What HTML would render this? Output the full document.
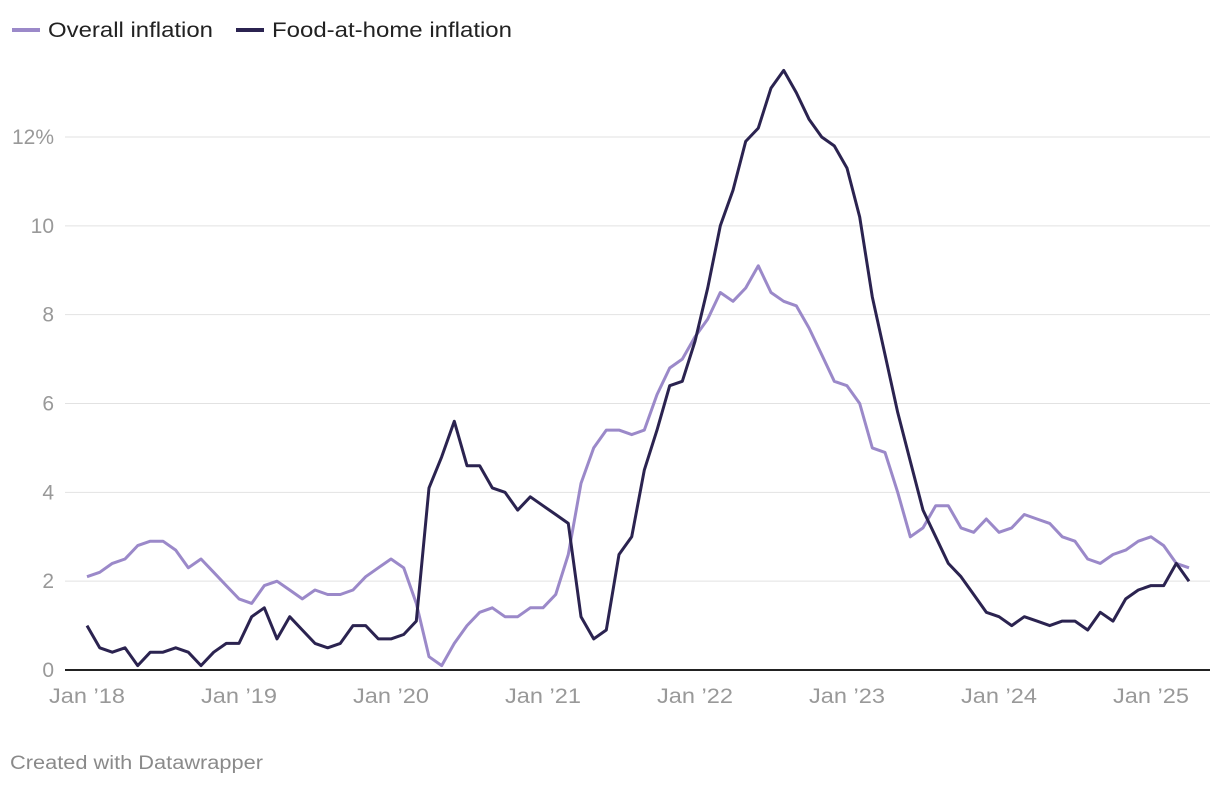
<!DOCTYPE html>
<html><head><meta charset="utf-8"><style>
body{margin:0;background:#fff;font-family:"Liberation Sans",Roboto,sans-serif;}
svg text{font-family:"Liberation Sans",sans-serif;}
</style></head><body>
<svg id="chart" width="1220" height="786">
<g>
<g><line x1="12" y1="30" x2="40" y2="30" stroke="#9b89c9" stroke-width="4"/><text x="48" y="37" font-size="21" fill="#222" textLength="165" lengthAdjust="spacingAndGlyphs">Overall inflation</text></g>
<g><line x1="236" y1="30" x2="264" y2="30" stroke="#2b2350" stroke-width="4"/><text x="272" y="37" font-size="21" fill="#222" textLength="240" lengthAdjust="spacingAndGlyphs">Food-at-home inflation</text></g>
</g>
<g id="grid"></g>
<g id="ylab"></g>
<g id="xlab"></g>
<g id="lines"></g>
<text x="10" y="769" font-size="19" fill="#8a8a8a" textLength="253" lengthAdjust="spacingAndGlyphs">Created with Datawrapper</text>
</svg>
<script>
const overall=[2.1,2.2,2.4,2.5,2.8,2.9,2.9,2.7,2.3,2.5,2.2,1.9,
1.6,1.5,1.9,2.0,1.8,1.6,1.8,1.7,1.7,1.8,2.1,2.3,
2.5,2.3,1.5,0.3,0.1,0.6,1.0,1.3,1.4,1.2,1.2,1.4,
1.4,1.7,2.6,4.2,5.0,5.4,5.4,5.3,5.4,6.2,6.8,7.0,
7.5,7.9,8.5,8.3,8.6,9.1,8.5,8.3,8.2,7.7,7.1,6.5,
6.4,6.0,5.0,4.9,4.0,3.0,3.2,3.7,3.7,3.2,3.1,3.4,
3.1,3.2,3.5,3.4,3.3,3.0,2.9,2.5,2.4,2.6,2.7,2.9,
3.0,2.8,2.4,2.3];
const food=[1.0,0.5,0.4,0.5,0.1,0.4,0.4,0.5,0.4,0.1,0.4,0.6,
0.6,1.2,1.4,0.7,1.2,0.9,0.6,0.5,0.6,1.0,1.0,0.7,
0.7,0.8,1.1,4.1,4.8,5.6,4.6,4.6,4.1,4.0,3.6,3.9,
3.7,3.5,3.3,1.2,0.7,0.9,2.6,3.0,4.5,5.4,6.4,6.5,
7.4,8.6,10.0,10.8,11.9,12.2,13.1,13.5,13.0,12.4,12.0,11.8,
11.3,10.2,8.4,7.1,5.8,4.7,3.6,3.0,2.4,2.1,1.7,1.3,
1.2,1.0,1.2,1.1,1.0,1.1,1.1,0.9,1.3,1.1,1.6,1.8,
1.9,1.9,2.4,2.0];
const yTicks=[0,2,4,6,8,10,12];
const xTickLabels=["Jan ’18","Jan ’19","Jan ’20","Jan ’21","Jan ’22","Jan ’23","Jan ’24","Jan ’25"];
const NS="http://www.w3.org/2000/svg";
const x=i=>87+i*152/12;
const y=v=>670-v*(533/12);
const grid=document.getElementById('grid'),yl=document.getElementById('ylab'),xl=document.getElementById('xlab'),ln=document.getElementById('lines');
yTicks.forEach(t=>{
 const l=document.createElementNS(NS,'line');
 
 
 l.setAttribute('x1',65);l.setAttribute('x2',1210);l.setAttribute('y1',y(t));l.setAttribute('y2',y(t));
 l.setAttribute('stroke',t===0?'#222':'#e2e2e2');l.setAttribute('stroke-width',t===0?2:1);
 grid.appendChild(l);
 const tx=document.createElementNS(NS,'text');
 
 
 tx.setAttribute('x',54);tx.setAttribute('y',y(t)+7);tx.setAttribute('text-anchor','end');
 tx.setAttribute('font-size',21);tx.setAttribute('fill','#999');
 tx.textContent=t===12?'12%':String(t);yl.appendChild(tx);
});
xTickLabels.forEach((s,k)=>{
 const tx=document.createElementNS(NS,'text');
 
 
 tx.setAttribute('x',x(k*12));tx.setAttribute('y',703);tx.setAttribute('text-anchor','middle');
 tx.setAttribute('font-size',21);tx.setAttribute('fill','#999');
 tx.setAttribute('textLength',76);tx.setAttribute('lengthAdjust','spacingAndGlyphs');
 tx.textContent=s;xl.appendChild(tx);
});
function draw(arr,color,name){
 const p=document.createElementNS(NS,'path');
 
 
 p.setAttribute('d',arr.map((v,i)=>(i?'L':'M')+x(i).toFixed(1)+','+y(v).toFixed(1)).join(''));
 p.setAttribute('fill','none');p.setAttribute('stroke',color);p.setAttribute('stroke-width',3);p.setAttribute('stroke-linejoin','round');
 ln.appendChild(p);
}
draw(overall,'#9b89c9','overall-inflation-line');
draw(food,'#2b2350','food-at-home-inflation-line');
</script>
</body></html>
